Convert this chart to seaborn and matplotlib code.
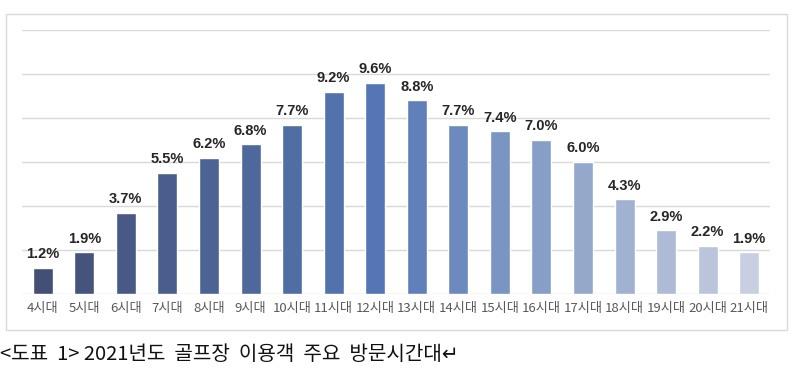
import matplotlib
matplotlib.use('Agg')
import matplotlib.pyplot as plt
import seaborn as sns
import pandas as pd
from matplotlib.patches import Rectangle

# 시간대별 이용객 비율 (%)
hours = ['4시대', '5시대', '6시대', '7시대', '8시대', '9시대', '10시대', '11시대', '12시대',
         '13시대', '14시대', '15시대', '16시대', '17시대', '18시대', '19시대', '20시대', '21시대']
share = [1.2, 1.9, 3.7, 5.5, 6.2, 6.8, 7.7, 9.2, 9.6,
         8.8, 7.7, 7.4, 7.0, 6.0, 4.3, 2.9, 2.2, 1.9]
caption = '<도표  1> 2021년도  골프장  이용객  주요  방문시간대↵'

df = pd.DataFrame({'hour': hours, 'share': share})

# 어두운 남색 -> 파랑 -> 연한 파랑
colors = sns.blend_palette(['#3b4b7c', '#4472c4'], 9) + sns.blend_palette(['#4472c4', '#c3cde4'], 10)[1:]

sns.set_style('white')
plt.rcParams['font.family'] = ['Noto Sans CJK KR', 'DejaVu Sans']

fig = plt.figure(figsize=(7.95, 3.82), dpi=100)
ax = fig.add_axes([22 / 795, 88 / 382, 748 / 795, 264 / 382])

sns.barplot(data=df, x='hour', y='share', hue='hour', palette=colors, legend=False,
            width=0.48, ax=ax, zorder=3)

ax.set_ylim(0, 12)
ax.set_xlim(-0.5, len(hours) - 0.5)
ax.set_yticks(range(0, 13, 2))
ax.yaxis.grid(True, color='#d9d9d9', linewidth=1, zorder=0)
ax.tick_params(axis='y', length=0, labelleft=False)
ax.tick_params(axis='x', length=0, pad=6, labelsize=9.5, labelcolor='#595959')
ax.set_xlabel('')
ax.set_ylabel('')
for s in ax.spines.values():
    s.set_visible(False)

for i, v in enumerate(share):
    ax.text(i, v + 0.3, f'{v:.1f}%', ha='center', va='bottom', fontsize=10.5,
            fontweight='bold', color='#262626', family=['Liberation Sans', 'DejaVu Sans'])

# 차트 테두리
fig.patches.append(Rectangle((6 / 795, 52 / 382), 781 / 795, 316 / 382, transform=fig.transFigure,
                             fill=False, edgecolor='#d9d9d9', linewidth=1))

fig.text(0 / 795, 27 / 382, caption, ha='left', va='center', fontsize=14.5, color='#111111')

fig.savefig('out.png', dpi=100)
